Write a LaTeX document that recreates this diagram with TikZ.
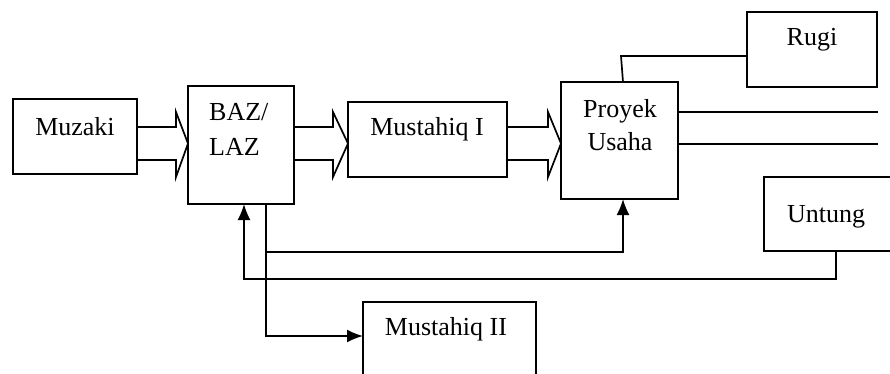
\documentclass[tikz,border=0pt]{standalone}
\usepackage{fontspec}
\setmainfont{Liberation Serif}
\usetikzlibrary{arrows.meta,calc}
\tikzset{
  box/.style={draw, line width=1.7pt, inner sep=0pt, outer sep=0pt},
  txt/.style={font=\fontsize{26}{30}\selectfont, inner sep=0pt, anchor=base},
  blk/.style={draw, line width=1.7pt, line join=miter},
  conn/.style={draw, line width=1.7pt},
  arr/.style={conn, -{Latex[length=16pt,width=13pt]}}
}
\newcommand\blockarr[3]{%
  \draw[blk] (#1.east |- 0,127) -- ($(#2.west |- 0,127)+(-#3,0)$) -- ++(0,-15)
    -- (#2.west |- 0,143.5) -- ($(#2.west |- 0,177)+(-#3,0)$) -- ++(0,-17)
    -- (#1.east |- 0,160);}
\begin{document}
\begin{tikzpicture}[x=1pt,y=-1pt]
  \useasboundingbox (0,0) rectangle (890,373);
  \clip (0,0) rectangle (890,373);
  % boxes
  \node[box, minimum width=124pt, minimum height=75pt]  (muz)  at (75,136.5) {};
  \node[box, minimum width=106pt, minimum height=118pt] (baz)  at (241,145) {};
  \node[box, minimum width=159pt, minimum height=75pt]  (mi)   at (427.5,139.5) {};
  \node[box, minimum width=117pt, minimum height=117pt] (proy) at (619.5,140.5) {};
  \node[box, minimum width=130pt, minimum height=75pt]  (rugi) at (812,49.5) {};
  \node[box, minimum width=136pt, minimum height=74pt]  (unt)  at (832,214) {};
  \node[box, minimum width=173pt, minimum height=84pt]  (mii)  at (449.5,344) {};
  % texts
  \node[txt] (muzT) at (75,135) {Muzaki};
  \node[txt, anchor=base west] (bazT1) at (209,120) {BAZ/};
  \node[txt, anchor=base west] (bazT2) at (209,155) {LAZ};
  \node[txt] (miT) at (427,135) {Mustahiq I};
  \node[txt] (proyT1) at (620,117) {Proyek};
  \node[txt] (proyT2) at (620,150) {Usaha};
  \node[txt] (rugiT) at (812,45) {Rugi};
  \node[txt] (untT) at (826,222) {Untung};
  \node[txt] (miiT) at (446,335) {Mustahiq II};
  % block arrows
  \blockarr{muz}{baz}{12}
  \blockarr{baz}{mi}{15}
  \blockarr{mi}{proy}{13}
  % coordinates
  \coordinate (rj) at (621,56);
  \coordinate (e1) at (878,112);
  \coordinate (e2) at (878,144);
  \coordinate (yc) at (0,336);
  % Proyek to Rugi
  \draw[conn] (proy.north -| 623,0) -- (rj) -- (rugi.west |- rj);
  % Proyek outgoing lines
  \draw[conn] (proy.east |- e1) -- (e1);
  \draw[conn] (proy.east |- e2) -- (e2);
  % BAZ to Mustahiq II and Proyek
  \draw[arr] (baz.south -| 266,0) -- (266,336) -- (mii.west |- yc);
  \draw[arr] (266,252) -- (623,252) -- (proy.south -| 623,0);
  % Untung back to BAZ
  \draw[arr] (unt.south -| 836,0) -- (836,279) -- (244,279) -- (baz.south -| 244,0);
\end{tikzpicture}
\end{document}
